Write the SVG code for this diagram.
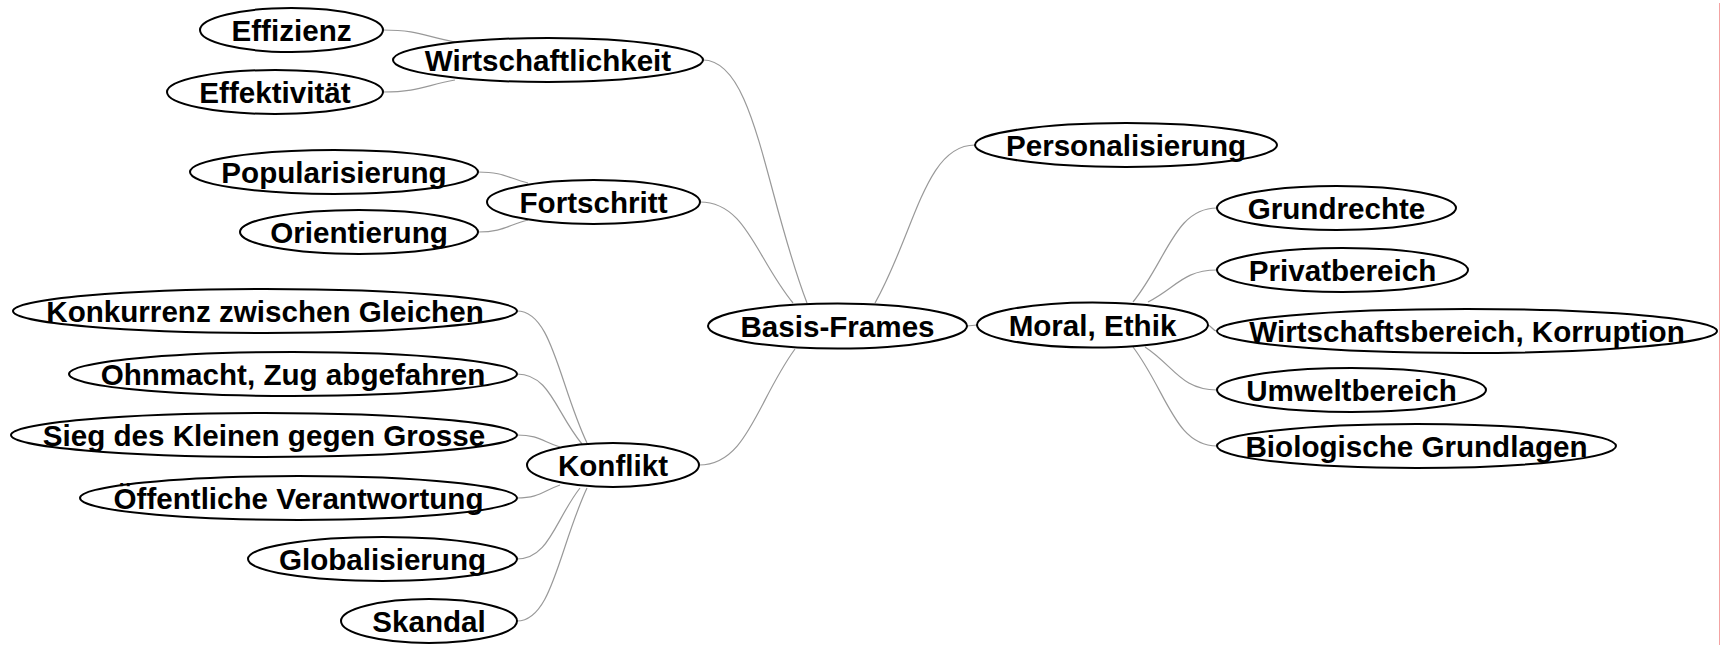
<svg xmlns="http://www.w3.org/2000/svg" width="1722" height="645" viewBox="0 0 1722 645">
<style>
.node ellipse{fill:#fff;stroke:#000;stroke-width:2}
.node text{font-family:"Liberation Sans",Arial,sans-serif;font-weight:bold;font-size:29.6px;text-anchor:middle;fill:#000}
#connectors path{fill:none;stroke:#999;stroke-width:1.2}
</style>
<rect width="1722" height="645" fill="#fff"/>
<line x1="1719.5" y1="3" x2="1719.5" y2="645" stroke="#f4a3a3" stroke-width="1"/>
<g id="connectors">
<path d="M383,30 C419,30 426,37 455,42"/>
<path d="M383,92 C419,92 426,85 455,80"/>
<path d="M478,172 C503,172 508,178 528,183"/>
<path d="M478,232 C503,232 508,225 528,220"/>
<path d="M703,60 C755,60 765,194 807,303"/>
<path d="M700,202 C746,202 756,258 793,303"/>
<path d="M699,465 C747,465 757,401 795,349"/>
<path d="M517,311 C552,311 559,384 587,443"/>
<path d="M517,374 C550,374 556,413 582,444"/>
<path d="M517,435 C539,435 543,442 560,447"/>
<path d="M517,498 C539,498 543,491 560,485"/>
<path d="M517,559 C549,559 555,520 580,488"/>
<path d="M517,621 C552,621 559,548 587,488"/>
<path d="M975,145 C925,145 915,232 875,303"/>
<path d="M967,326 L977,325"/>
<path d="M1217,208 C1175,208 1167,260 1133,302"/>
<path d="M1217,270 C1183,270 1176,288 1148,302"/>
<path d="M1217,331 C1212,331 1212,325 1207,325"/>
<path d="M1217,390 C1181,390 1174,366 1145,347"/>
<path d="M1217,446 C1175,446 1167,392 1133,347"/>
</g>
<g id="n-effizienz" class="node"><ellipse cx="291.5" cy="30" rx="91.5" ry="22"/><text x="291.5" y="40.5">Effizienz</text></g>
<g id="n-wirtschaftlichkeit" class="node"><ellipse cx="548" cy="60" rx="155" ry="22"/><text x="548" y="70.5">Wirtschaftlichkeit</text></g>
<g id="n-effektivitaet" class="node"><ellipse cx="275" cy="92" rx="108" ry="22"/><text x="275" y="102.5">Effektivität</text></g>
<g id="n-popularisierung" class="node"><ellipse cx="334" cy="172" rx="144" ry="22"/><text x="334" y="182.5">Popularisierung</text></g>
<g id="n-fortschritt" class="node"><ellipse cx="593.5" cy="202" rx="106.5" ry="22"/><text x="593.5" y="212.5">Fortschritt</text></g>
<g id="n-orientierung" class="node"><ellipse cx="359" cy="232" rx="119" ry="22"/><text x="359" y="242.5">Orientierung</text></g>
<g id="n-konkurrenz" class="node"><ellipse cx="265" cy="311" rx="252" ry="22"/><text x="265" y="321.5">Konkurrenz zwischen Gleichen</text></g>
<g id="n-ohnmacht" class="node"><ellipse cx="293" cy="374" rx="224" ry="22"/><text x="293" y="384.5">Ohnmacht, Zug abgefahren</text></g>
<g id="n-sieg" class="node"><ellipse cx="264" cy="435" rx="253" ry="22"/><text x="264" y="445.5">Sieg des Kleinen gegen Grosse</text></g>
<g id="n-verantwortung" class="node"><ellipse cx="298.5" cy="498" rx="218.5" ry="22"/><text x="298.5" y="508.5">Öffentliche Verantwortung</text></g>
<g id="n-globalisierung" class="node"><ellipse cx="382.5" cy="559" rx="134.5" ry="22"/><text x="382.5" y="569.5">Globalisierung</text></g>
<g id="n-skandal" class="node"><ellipse cx="429" cy="621" rx="88" ry="22"/><text x="429" y="631.5">Skandal</text></g>
<g id="n-konflikt" class="node"><ellipse cx="613" cy="465" rx="86" ry="22"/><text x="613" y="475.5">Konflikt</text></g>
<g id="n-basis" class="node"><ellipse cx="837.5" cy="326" rx="129.5" ry="22.5"/><text x="837.5" y="336.5">Basis-Frames</text></g>
<g id="n-moral" class="node"><ellipse cx="1092.5" cy="325" rx="115.5" ry="22.5"/><text x="1092.5" y="335.5">Moral, Ethik</text></g>
<g id="n-personalisierung" class="node"><ellipse cx="1126" cy="145" rx="151" ry="22"/><text x="1126" y="155.5">Personalisierung</text></g>
<g id="n-grundrechte" class="node"><ellipse cx="1336.5" cy="208" rx="119.5" ry="22"/><text x="1336.5" y="218.5">Grundrechte</text></g>
<g id="n-privatbereich" class="node"><ellipse cx="1342.5" cy="270" rx="125.5" ry="22"/><text x="1342.5" y="280.5">Privatbereich</text></g>
<g id="n-wirtschaftsbereich" class="node"><ellipse cx="1467" cy="331" rx="250" ry="22"/><text x="1467" y="341.5">Wirtschaftsbereich, Korruption</text></g>
<g id="n-umweltbereich" class="node"><ellipse cx="1351.5" cy="390" rx="134.5" ry="22"/><text x="1351.5" y="400.5">Umweltbereich</text></g>
<g id="n-biologische" class="node"><ellipse cx="1416.5" cy="446" rx="199.5" ry="22"/><text x="1416.5" y="456.5">Biologische Grundlagen</text></g>
</svg>
